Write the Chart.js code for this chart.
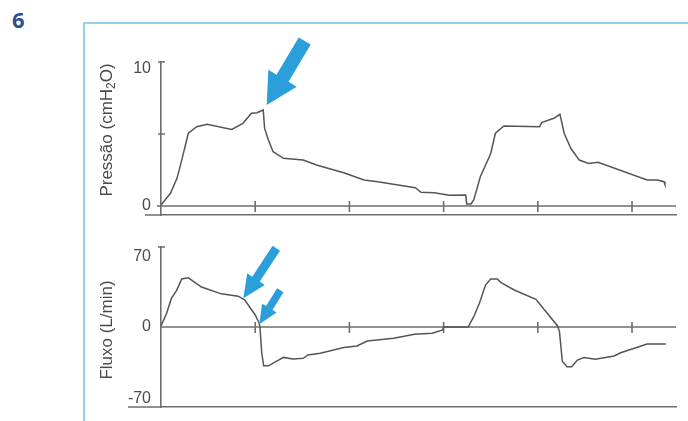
<!DOCTYPE html>
<html>
<head>
<meta charset="utf-8">
<script src="https://cdn.jsdelivr.net/npm/chart.js@4.4.1/dist/chart.umd.min.js"></script>
<style>
  html, body { margin: 0; padding: 0; background: #ffffff; }
  #page { position: relative; width: 688px; height: 421px; overflow: hidden; }
  #num { position: absolute; left: 12px; top: 8px; font: 700 22px/1 "Open Sans", "Noto Sans", sans-serif; color: #2d4f8e; }
  #frame { position: absolute; left: 83px; top: 22px; width: 640px; height: 440px;
           border-top: 2px solid #93cfee; border-left: 2px solid #93cfee; }
  canvas { position: absolute; left: 0; }
  #pressureChart { top: 0; }
  #flowChart { top: 225px; }
</style>
</head>
<body>
<div id="page">
  <div id="num">6</div>
  <div id="frame"></div>
  <canvas id="pressureChart" width="688" height="225"></canvas>
  <canvas id="flowChart" width="688" height="196"></canvas>
</div>
<script>
// Time axis (s) and its tick marks
const timeTicks = [1, 2, 3, 4, 5];
const timeMax = 5.467;

// Airway pressure trace
const pressureTime  = [0, 0.10, 0.17, 0.22, 0.29, 0.38, 0.49, 0.75, 0.87, 0.96,
                       1.02, 1.085, 1.10, 1.14, 1.19, 1.30, 1.51, 1.65, 1.94, 2.155,
                       2.30, 2.70, 2.76, 2.90, 3.06, 3.235, 3.245, 3.29, 3.32, 3.39,
                       3.50, 3.55, 3.64, 4.02, 4.04, 4.17, 4.235, 4.28, 4.35, 4.44,
                       4.54, 4.64, 5.16, 5.27, 5.34, 5.35];
const pressureValue = [0.07, 0.88, 1.92, 3.19, 5.05, 5.51, 5.67, 5.32, 5.74, 6.44,
                       6.48, 6.67, 5.39, 4.58, 3.77, 3.31, 3.19, 2.85, 2.31, 1.81,
                       1.69, 1.27, 0.95, 0.92, 0.74, 0.76, 0.14, 0.14, 0.42, 2.03,
                       3.65, 5.05, 5.56, 5.51, 5.79, 6.09, 6.37, 5.05, 4.01, 3.19,
                       2.96, 3.03, 1.81, 1.81, 1.69, 1.5];
const pressureTicks      = [0, 5, 10];
const pressureTickLabels = ['0', '', '10'];

// Airflow trace
const flowTime  = [0, 0.06, 0.11, 0.166, 0.22, 0.29, 0.43, 0.64, 0.82, 0.89,
                   1.00, 1.04, 1.05, 1.07, 1.09, 1.14, 1.30, 1.40, 1.51, 1.56,
                   1.69, 1.94, 2.08, 2.19, 2.47, 2.69, 2.88, 2.99, 3.00, 3.26,
                   3.32, 3.38, 3.445, 3.50, 3.57, 3.61, 3.75, 3.98, 4.10, 4.21,
                   4.23, 4.26, 4.31, 4.36, 4.42, 4.49, 4.61, 4.81, 4.88, 5.16,
                   5.36];
const flowValue = [1, 12, 25, 32, 42, 43, 35, 29, 27, 23.6,
                   10.5, 3.8, 0.3, -23, -34, -34, -26.6, -28, -27.4, -24.5,
                   -23, -18, -16.6, -12.3, -9.9, -6.4, -5.5, -2.6, 0, 0,
                   9, 20.7, 36.7, 42, 42, 38.8, 32.4, 24.2, 12, 0.9,
                   -4, -30, -34.7, -34.7, -28.9, -26.8, -28.3, -25.4, -22.5, -14.9,
                   -14.9];
const flowTicks      = [-70, 0, 70];
const flowTickLabels = ['-70', '0', '70'];

const AXIS = '#6e6e6e';
const TRACE = '#555555';
const TEXT = '#4a4a4a';
const ARROW = '#2a9fd9';
const FONT = '"Liberation Sans", Arial, sans-serif';

function toPoints(xs, ys) { return xs.map((x, i) => ({ x, y: ys[i] })); }

function drawArrow(ctx, tx, ty, ex, ey, shaftW, headW, headL) {
  const dx = ex - tx, dy = ey - ty, len = Math.hypot(dx, dy);
  const ux = dx / len, uy = dy / len, nx = -uy, ny = ux;
  const bx = tx + ux * headL, by = ty + uy * headL;
  ctx.beginPath();
  ctx.moveTo(tx, ty);
  ctx.lineTo(bx + nx * headW / 2, by + ny * headW / 2);
  ctx.lineTo(bx + nx * shaftW / 2, by + ny * shaftW / 2);
  ctx.lineTo(ex + nx * shaftW / 2, ey + ny * shaftW / 2);
  ctx.lineTo(ex - nx * shaftW / 2, ey - ny * shaftW / 2);
  ctx.lineTo(bx - nx * shaftW / 2, by - ny * shaftW / 2);
  ctx.lineTo(bx - nx * headW / 2, by - ny * headW / 2);
  ctx.closePath();
  ctx.fillStyle = ARROW;
  ctx.fill();
}

// Zero line, crossing tick marks, tick labels, rotated axis title and pointer arrows
const panelDecor = {
  id: 'panelDecor',
  beforeDatasetsDraw(chart, args, o) {
    const { ctx, chartArea: a } = chart;
    const xs = chart.scales.x, ys = chart.scales.y;
    const y0 = ys.getPixelForValue(0);
    ctx.save();
    ctx.strokeStyle = AXIS;
    ctx.lineWidth = 1.6;
    ctx.beginPath();
    // baseline at zero
    ctx.moveTo(a.left - o.zeroExtend, y0); ctx.lineTo(a.right, y0);
    // left extension of the bottom border
    ctx.moveTo(a.left - o.bottomExtend, a.bottom); ctx.lineTo(a.left, a.bottom);
    // time ticks crossing the zero line
    timeTicks.forEach(t => {
      const x = xs.getPixelForValue(t);
      ctx.moveTo(x, y0 - 5); ctx.lineTo(x, y0 + 6);
    });
    // value ticks crossing the vertical axis
    o.crossTicks.forEach(v => {
      const y = ys.getPixelForValue(v);
      ctx.moveTo(a.left - 3, y); ctx.lineTo(a.left + 4, y);
    });
    ctx.stroke();

    // tick labels
    ctx.fillStyle = TEXT;
    ctx.font = '16px ' + FONT;
    ctx.textAlign = 'right';
    ctx.textBaseline = 'middle';
    o.ticks.forEach((v, i) => {
      const txt = o.labels[i];
      if (!txt) return;
      ctx.fillText(txt, a.left - 10, ys.getPixelForValue(v) + (o.labelShift[i] || 0));
    });

    // axis title, rotated, with an optional subscript part
    ctx.translate(o.titleX, o.titleY);
    ctx.rotate(-Math.PI / 2);
    ctx.textAlign = 'left';
    ctx.textBaseline = 'middle';
    const big = '17px ' + FONT, small = '12px ' + FONT;
    const parts = o.title;
    let total = 0;
    parts.forEach(p => { ctx.font = p.sub ? small : big; total += ctx.measureText(p.text).width; });
    let cx = -total / 2;
    parts.forEach(p => {
      ctx.font = p.sub ? small : big;
      ctx.fillText(p.text, cx, p.sub ? 5 : 0);
      cx += ctx.measureText(p.text).width;
    });
    ctx.restore();
  },
  afterDatasetsDraw(chart, args, o) {
    const { ctx } = chart;
    const xs = chart.scales.x, ys = chart.scales.y;
    const ds = chart.data.datasets[0].data;
    ctx.save();
    o.arrows.forEach(ar => {
      const p = ds[ar.at];
      const tx = xs.getPixelForValue(p.x) + ar.dx;
      const ty = ys.getPixelForValue(p.y) + ar.dy;
      drawArrow(ctx, tx, ty, tx + ar.tail[0], ty + ar.tail[1], ar.shaft, ar.headW, ar.headL);
    });
    ctx.restore();
  }
};

function makePanel(canvasId, xsData, ysData, yMin, yMax, pad, decor) {
  return new Chart(document.getElementById(canvasId), {
    type: 'line',
    data: {
      datasets: [{
        data: toPoints(xsData, ysData),
        borderColor: TRACE,
        borderWidth: 1.5,
        pointRadius: 0,
        tension: 0,
        fill: false
      }]
    },
    options: {
      responsive: false,
      animation: false,
      events: [],
      layout: { padding: pad },
      plugins: { legend: { display: false }, tooltip: { enabled: false }, panelDecor: decor },
      scales: {
        x: {
          type: 'linear', min: 0, max: timeMax,
          grid: { display: false },
          ticks: { display: false },
          border: { display: true, color: AXIS, width: 1.6 },
          afterFit: s => { s.height = 0; }
        },
        y: {
          type: 'linear', min: yMin, max: yMax,
          grid: { display: false },
          ticks: { display: false },
          border: { display: true, color: AXIS, width: 1.6 },
          afterFit: s => { s.width = 161; }
        }
      }
    },
    plugins: [panelDecor]
  });
}

makePanel('pressureChart', pressureTime, pressureValue, -0.625, 10,
  { top: 62, right: 12, bottom: 10, left: 0 },
  {
    ticks: pressureTicks, labels: pressureTickLabels, labelShift: [0, 0, 7],
    crossTicks: [5, 10], zeroExtend: 4, bottomExtend: 16,
    titleX: 107, titleY: 130,
    title: [{ text: 'Pressão (cmH' }, { text: '2', sub: true }, { text: 'O)' }],
    arrows: [{ at: 11, dx: 3.5, dy: -5, tail: [38, -64], shaft: 14, headW: 33, headL: 31 }]
  });

makePanel('flowChart', flowTime, flowValue, -70, 70,
  { top: 22, right: 12, bottom: 14, left: 0 },
  {
    ticks: flowTicks, labels: flowTickLabels, labelShift: [-8, 0, 10],
    crossTicks: [70], zeroExtend: 0, bottomExtend: 33,
    titleX: 107, titleY: 105,
    title: [{ text: 'Fluxo (L/min)' }],
    arrows: [
      { at: 9,  dx: -1.5, dy: -1.7, tail: [33, -50], shaft: 9, headW: 21, headL: 23 },
      { at: 12, dx: -0.6, dy: -2.4, tail: [21, -34], shaft: 7.5, headW: 17, headL: 19 }
    ]
  });
</script>
</body>
</html>
